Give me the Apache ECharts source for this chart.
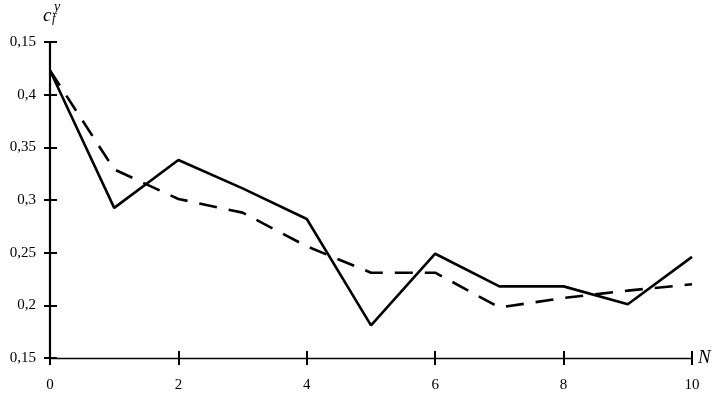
<!DOCTYPE html>
<html><head><meta charset="utf-8">
<script src="https://cdn.jsdelivr.net/npm/echarts@6/dist/echarts.min.js"></script>
<style>html,body{margin:0;padding:0;background:#fff}#c{width:725px;height:399px}</style>
</head><body><div id="c"></div>
<script>
const categories = [0,1,2,3,4,5,6,7,8,9,10];
const solidValues = [0.423,0.2925,0.338,0.311,0.282,0.181,0.249,0.218,0.218,0.201,0.246];
const dashedValues = [0.423,0.329,0.301,0.288,0.256,0.231,0.231,0.198,0.207,0.214,0.220];
const yTickValues = [0.15,0.2,0.25,0.3,0.35,0.4,0.45];
const yTickLabels = ["0,15","0,2","0,25","0,3","0,35","0,4","0,15"];
const xTickValues = [0,2,4,6,8,10];
const xTickLabels = ["0","2","4","6","8","10"];

const font = '"Liberation Serif","DejaVu Serif",serif';
const chart = echarts.init(document.getElementById('c'));
const yLabel = v => { const i = yTickValues.findIndex(t => Math.abs(t - v) < 1e-9); return i >= 0 ? yTickLabels[i] : ''; };
const xLabel = v => { const i = xTickValues.indexOf(Math.round(v)); return i >= 0 ? xTickLabels[i] : ''; };
const baseX = { type:'value', min:0, max:10, interval:2, splitLine:{show:false} };
const baseY = { type:'value', min:0.15, max:0.45, interval:0.05, splitLine:{show:false} };
chart.setOption({
  animation:false,
  backgroundColor:'#fff',
  grid:{left:50, right:33, top:42, bottom:41},
  xAxis:[
    Object.assign({}, baseX, {
      axisLine:{lineStyle:{color:'#000', width:1.3}},
      axisTick:{show:true, length:7, lineStyle:{color:'#000', width:2}},
      axisLabel:{formatter:xLabel, color:'#000', fontFamily:font, fontSize:15, margin:20, showMinLabel:true, showMaxLabel:true},
      name:'N', nameLocation:'end', nameGap:6,
      nameTextStyle:{fontFamily:font, fontStyle:'italic', fontSize:19, color:'#000', verticalAlign:'middle'}
    }),
    Object.assign({}, baseX, {
      position:'bottom',
      axisLine:{show:false},
      axisTick:{show:true, inside:true, length:7, lineStyle:{color:'#000', width:2}},
      axisLabel:{show:false}
    })
  ],
  yAxis:[
    Object.assign({}, baseY, {
      axisLine:{lineStyle:{color:'#000', width:2.2}},
      axisTick:{show:true, length:6, lineStyle:{color:'#000', width:2}},
      axisLabel:{formatter:yLabel, color:'#000', fontFamily:font, fontSize:15, margin:14}
    }),
    Object.assign({}, baseY, {
      position:'left',
      axisLine:{show:false},
      axisTick:{show:true, inside:true, length:7, lineStyle:{color:'#000', width:2}},
      axisLabel:{show:false}
    })
  ],
  graphic:[
    {type:'text', left:43, top:6, style:{text:'c', font:'italic 19px "Liberation Serif", serif', fill:'#000'}},
    {type:'text', left:54, top:0, style:{text:'y', font:'italic 14px "Liberation Serif", serif', fill:'#000'}},
    {type:'text', left:52, top:12, style:{text:'f', font:'italic 13px "Liberation Serif", serif', fill:'#000'}}
  ],
  series:[
    {type:'line', data:categories.map((x,i)=>[x, solidValues[i]]), symbol:'none', xAxisIndex:0, yAxisIndex:0,
     lineStyle:{color:'#000', width:2.6}},
    {type:'line', data:categories.map((x,i)=>[x, dashedValues[i]]), symbol:'none', xAxisIndex:0, yAxisIndex:0,
     lineStyle:{color:'#000', width:2.6, type:[18,12]}}
  ]
});
</script></body></html>
